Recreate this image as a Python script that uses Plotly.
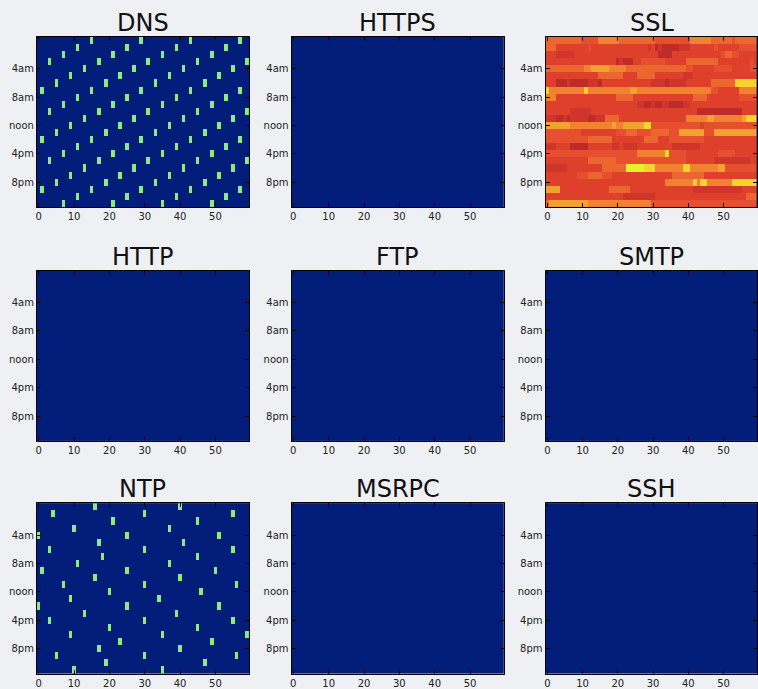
import plotly.graph_objects as go

# Traffic per protocol, by hour of day (rows) and minute of hour (columns)
protocols = ["DNS", "HTTPS", "SSL", "HTTP", "FTP", "SMTP", "NTP", "MSRPC", "SSH"]
n_hours = 24
n_minutes = 60
hour_ticks = [4, 8, 12, 16, 20]
hour_labels = ["4am", "8am", "noon", "4pm", "8pm"]
minute_ticks = [0, 10, 20, 30, 40, 50]

# Minutes with DNS activity, one list per hour (0..23)
dns_minutes = [
    [15, 29, 43, 57], [11, 25, 39, 53], [7, 21, 35, 49], [3, 17, 31, 45, 59],
    [13, 27, 41, 55], [9, 23, 37, 51], [5, 19, 33, 47], [1, 15, 29, 43, 57],
    [11, 25, 39, 53], [7, 21, 35, 49], [3, 17, 31, 45, 59], [13, 27, 41, 55],
    [9, 23, 37, 51], [5, 19, 33, 47], [1, 15, 29, 43, 57], [11, 25, 39, 53],
    [7, 21, 35, 49], [3, 17, 31, 45, 59], [13, 27, 41, 55], [9, 23, 37, 51],
    [5, 19, 33, 47], [1, 15, 29, 43, 57], [11, 25, 39, 53], [7, 21, 35, 49],
]

# Minutes with NTP activity, one list per hour (0..23)
ntp_minutes = [
    [16, 40], [4, 30, 55], [21, 45], [10, 37], [0, 25, 51], [17, 41],
    [3, 30, 55], [18, 45], [11, 37], [1, 25, 50], [16, 40], [7, 30, 56],
    [20, 46], [9, 34], [0, 25, 51], [13, 39], [3, 30, 55], [20, 45],
    [9, 35, 59], [23, 49], [17, 40], [5, 30, 56], [19, 47], [10, 35],
]

# SSL volume level (0..9) per minute, one 60-digit string per hour
ssl_levels = [
    "5555555555 4444466666 6555555555 5444444444 4666666555 5554555555",
    "5553333333 3343333333 3333333332 3121111122 2333333343 3333344444",
    "3332222233 3333333333 3333333333 3311113333 3333333333 4554433333",
    "3333333333 3333333333 1211133444 4444333333 5555555553 3333333343",
    "5555555555 5667777766 6665555555 5555555555 4433333344 4443333344",
    "3333333333 3333355555 5533335555 5333333332 2233333333 3333333333",
    "3331112111 1122213333 3333333333 2222122222 3333333555 5555888888",
    "8666666666 6866666666 6666776666 6666666666 6666666443 3333366666",
    "6663333333 3333333333 5555533333 3333333333 3355553333 3333344444",
    "3333333333 3333333333 3333332211 2112211112 2333333333 3333333333",
    "3333333222 2223333333 3333333333 3333333333 3331111111 1111113333",
    "2221121222 2211222555 5333333333 3333333333 6666667766 6666667888",
    "7777777666 6666666667 6677777788 4444444444 4444344444 4444444444",
    "4444444444 3333333333 4445554444 5555544477 7777744477 7777777777",
    "4444444444 4455555553 3333333355 5533344444 4444433333 3333333333",
    "2223333111 1133333332 2322223333 3333332222 2222333333 3333333333",
    "4444444444 4444444444 4444446666 6666844444 3333333334 4444333333",
    "3333333333 3355555555 4444444444 4444444444 3333333322 2222222233",
    "2222223333 3333335555 5559999988 8666666668 8666666667 7444444444",
    "3333333334 4455554443 3333333333 3333335555 5555533333 3333333333",
    "3333333333 3333333333 3333333333 3333666666 6686886666 6668888888",
    "7777333333 3333333355 5555333333 3333333333 3322222222 2222223333",
    "3333333333 3333333333 3322222222 2333333333 3333333333 3333333555",
    "5777777777 7766666666 6666666666 4444444444 4444444444 4444444444",
]

BLUE = "#021e7a"
GREEN = "#8ced7e"
binary_scale = [[0.0, BLUE], [1.0, GREEN]]
ssl_colors = ["#b02626", "#bd2c28", "#cf352a", "#df402c", "#e6502e",
              "#ec6630", "#f08232", "#f3a231", "#f7d32e", "#e6f22a"]
ssl_scale = [[i / (len(ssl_colors) - 1), c] for i, c in enumerate(ssl_colors)]


def activity_grid(rows):
    grid = [[0] * n_minutes for _ in range(n_hours)]
    for h, mins in enumerate(rows):
        for m in mins:
            grid[h][m] = 1
    return grid


def empty_grid():
    return [[0] * n_minutes for _ in range(n_hours)]


ssl_grid = [[int(c) for c in row.replace(" ", "")] for row in ssl_levels]

panels = {
    "DNS": (activity_grid(dns_minutes), binary_scale, 0, 1),
    "HTTPS": (empty_grid(), binary_scale, 0, 1),
    "SSL": (ssl_grid, ssl_scale, 0, 9),
    "HTTP": (empty_grid(), binary_scale, 0, 1),
    "FTP": (empty_grid(), binary_scale, 0, 1),
    "SMTP": (empty_grid(), binary_scale, 0, 1),
    "NTP": (activity_grid(ntp_minutes), binary_scale, 0, 1),
    "MSRPC": (empty_grid(), binary_scale, 0, 1),
    "SSH": (empty_grid(), binary_scale, 0, 1),
}

W, H = 758, 689
col_left = [36.0, 291.3, 546.0]
row_top = [37.0, 271.0, 504.0]
panel_w = 212.7
panel_h = 170.5

FONT = "DejaVu Sans"
fig = go.Figure()
layout = dict(
    width=W, height=H,
    margin=dict(l=0, r=0, t=0, b=0),
    paper_bgcolor="#eef0f3",
    plot_bgcolor=BLUE,
    showlegend=False,
    font=dict(family=FONT, size=10, color="#222222"),
    annotations=[],
)

x_vals = list(range(n_minutes))
y_vals = list(range(n_hours))

for i, name in enumerate(protocols):
    r, c = divmod(i, 3)
    z, scale, zmin, zmax = panels[name]
    suffix = "" if i == 0 else str(i + 1)
    fig.add_trace(go.Heatmap(
        z=z, x=x_vals, y=y_vals, colorscale=scale, zmin=zmin, zmax=zmax,
        showscale=False, xaxis="x" + suffix, yaxis="y" + suffix,
        hoverinfo="skip",
    ))
    x0 = col_left[c] / W
    x1 = min(1.0, (col_left[c] + panel_w) / W)
    y1 = 1 - row_top[r] / H
    y0 = 1 - (row_top[r] + panel_h) / H
    axis_common = dict(
        showline=True, linecolor="black", linewidth=1, mirror="ticks",
        ticks="inside", ticklen=4, tickwidth=1, tickcolor="black",
        showgrid=False, zeroline=False, fixedrange=True,
        tickfont=dict(family=FONT, size=10, color="#222222"),
    )
    layout["xaxis" + suffix] = dict(
        domain=[x0, x1], range=[-0.5, n_minutes - 0.5],
        tickvals=minute_ticks, anchor="y" + suffix, **axis_common,
    )
    layout["yaxis" + suffix] = dict(
        domain=[y0, y1], range=[n_hours - 0.5, -0.5],
        tickvals=hour_ticks, ticktext=hour_labels, anchor="x" + suffix,
        **axis_common,
    )
    layout["annotations"].append(dict(
        text=name, x=(x0 + (col_left[c] + panel_w) / W) / 2, y=y1,
        xref="paper", yref="paper", xanchor="center", yanchor="bottom",
        showarrow=False, font=dict(family=FONT, size=24, color="#111111"),
        yshift=-2,
    ))

fig.update_layout(**layout)
fig.write_html("out.html")
